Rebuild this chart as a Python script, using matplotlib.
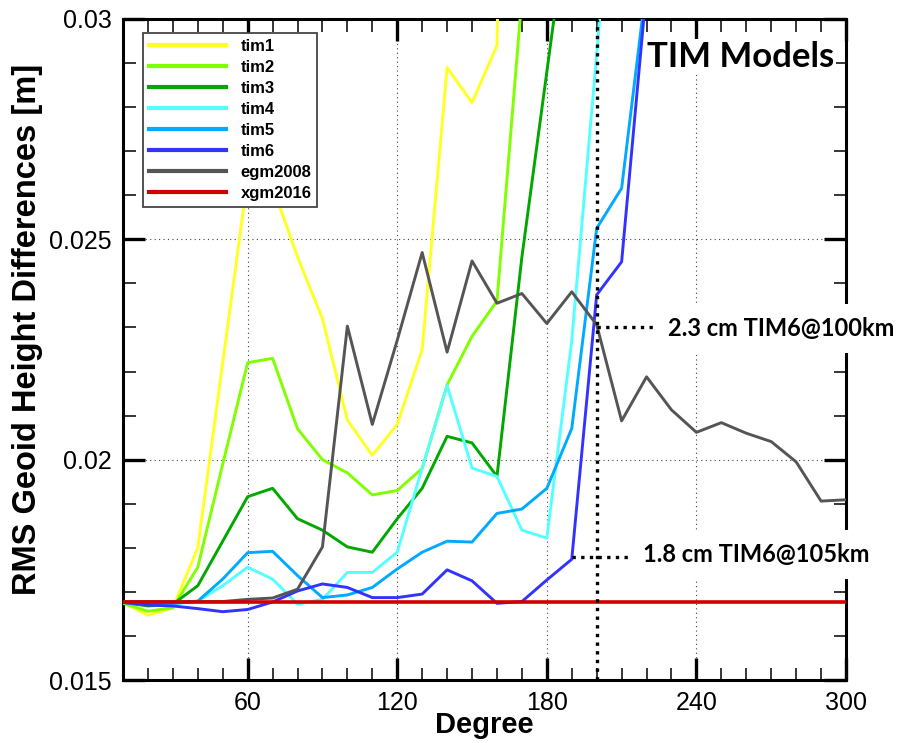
import matplotlib
matplotlib.use("Agg")
import matplotlib.pyplot as plt
from matplotlib.ticker import MultipleLocator, FixedLocator, FuncFormatter

degrees = [10, 20, 30, 40, 50, 60, 70, 80, 90, 100, 110, 120, 130, 140, 150,
           160, 170, 180, 190, 200, 210, 220, 230, 240, 250, 260, 270, 280, 290, 300]

tim1 = [0.01676, 0.01647, 0.01664, 0.0180, 0.0222, 0.0264, 0.0262, 0.0246, 0.0232,
        0.0209, 0.0201, 0.0208, 0.0225, 0.0289, 0.0281, 0.0294, 0.0600]
tim2 = [0.01674, 0.01656, 0.01664, 0.01756, 0.0199, 0.0222, 0.0223, 0.0207, 0.0200,
        0.0197, 0.0192, 0.0193, 0.0198, 0.0217, 0.0228, 0.0236, 0.0305, 0.0400]
tim3 = [0.01676, 0.01668, 0.01672, 0.01714, 0.01815, 0.01916, 0.01935, 0.01866, 0.0184,
        0.01802, 0.0179, 0.01866, 0.01935, 0.02053, 0.02038, 0.01962, 0.0246, 0.0288, 0.0330]
tim4 = [0.01676, 0.01672, 0.01672, 0.01679, 0.01714, 0.01756, 0.01729, 0.01672, 0.01683,
        0.01744, 0.01744, 0.0179, 0.01981, 0.02168, 0.01981, 0.01962, 0.0184, 0.01822,
        0.0227, 0.0292, 0.0360]
tim5 = [0.01676, 0.01674, 0.01674, 0.01679, 0.01729, 0.01789, 0.01792, 0.01737, 0.01687,
        0.01693, 0.0171, 0.01752, 0.0179, 0.01815, 0.01813, 0.01878, 0.01888, 0.01935,
        0.02071, 0.02525, 0.02616, 0.0308]
tim6 = [0.01676, 0.0167, 0.01668, 0.01662, 0.01655, 0.0166, 0.01677, 0.01702, 0.01718,
        0.0171, 0.01687, 0.01687, 0.01695, 0.0175, 0.01725, 0.01674, 0.01678, 0.01727,
        0.01774, 0.02374, 0.02449, 0.0307]
egm2008 = [0.01678, 0.01678, 0.01678, 0.01678, 0.01678, 0.01683, 0.01686, 0.01706, 0.01802,
           0.02303, 0.0208, 0.02271, 0.0247, 0.02244, 0.02451, 0.02355, 0.02377, 0.02309,
           0.02381, 0.02306, 0.02088, 0.02188, 0.02113, 0.02062, 0.02084, 0.0206, 0.02041,
           0.01995, 0.01906, 0.01909]
xgm2016 = [0.01676, 0.01676, 0.01676, 0.01676, 0.01676, 0.01676, 0.01676, 0.01676, 0.01676,
           0.01676, 0.01676, 0.01676, 0.01676, 0.01676, 0.01676, 0.01676, 0.01676, 0.01676,
           0.01676, 0.01676, 0.01676, 0.01676, 0.01676, 0.01676, 0.01676, 0.01676, 0.01676,
           0.01676, 0.01676, 0.01676]

series_names = ["tim1", "tim2", "tim3", "tim4", "tim5", "tim6", "egm2008", "xgm2016"]
series_values = [tim1, tim2, tim3, tim4, tim5, tim6, egm2008, xgm2016]
series_colors = ["#FFFF22", "#80FF00", "#00A800", "#55FFFF", "#00AAFF", "#3333FF",
                 "#555555", "#D00000"]

x_major = [60, 120, 180, 240, 300]
y_major = [0.015, 0.02, 0.025, 0.03]
y_tick_labels = ["0.015", "0.02", "0.025", "0.03"]

cut_degree = 200
label_hi = ("2.3 cm TIM6@100km", 200, 0.0230)
label_lo = ("1.8 cm TIM6@105km", 190, 0.01778)

plt.rcParams['font.family'] = ['Liberation Sans', 'DejaVu Sans']

fig = plt.figure(figsize=(9.04, 7.43), dpi=100)
ax = fig.add_axes([123 / 904, 1 - 680 / 743, (846 - 123) / 904, (680 - 19) / 743])

for name, vals, col in zip(series_names, series_values, series_colors):
    lw = 2.6 if name == "xgm2016" else 2.1
    ax.plot(degrees[:len(vals)], vals, color=col, lw=lw, label=name, zorder=3)

ax.set_xlim(10, 300)
ax.set_ylim(0.015, 0.03)

ax.xaxis.set_major_locator(FixedLocator(x_major))
ax.xaxis.set_minor_locator(MultipleLocator(10))
ax.yaxis.set_major_locator(FixedLocator(y_major))
ax.yaxis.set_minor_locator(MultipleLocator(0.001))
ax.yaxis.set_major_formatter(FuncFormatter(lambda v, p: y_tick_labels[y_major.index(round(v, 3))] if round(v, 3) in y_major else ""))

ax.tick_params(which='both', direction='in', top=True, right=True, labelsize=18)
ax.tick_params(which='major', length=16, width=2.4, pad=8)
ax.tick_params(which='minor', length=9, width=1.1)
for s in ax.spines.values():
    s.set_linewidth(2.2)

ax.grid(True, which='major', color='#444444', lw=0.8, linestyle=(0, (1, 3)), zorder=1)
ax.set_axisbelow(True)

ax.set_xlabel("Degree", fontsize=21, fontweight='bold', labelpad=-3)
ax.set_ylabel("RMS Geoid Height Differences [m]", fontsize=23.5, fontweight='bold')
ax.yaxis.set_label_coords(-0.111, 0.53)

# vertical cut line
ax.axvline(cut_degree, color='black', lw=2.4, linestyle=(0, (1, 1.6)), zorder=4)

# leader lines and labels
txt_font = ['Lato', 'DejaVu Sans']
ax.plot([label_hi[1], 222.5], [label_hi[2], label_hi[2]], color='black', lw=2.4,
        linestyle=(0, (1, 1.6)), clip_on=False, zorder=4)
ax.plot([label_lo[1], 214.0], [label_lo[2], label_lo[2]], color='black', lw=2.4,
        linestyle=(0, (1, 1.6)), clip_on=False, zorder=4)
ax.text(228.5, 0.02281, label_hi[0], fontsize=17, fontweight='bold', family=txt_font,
        ha='left', va='baseline', clip_on=False, zorder=5,
        bbox=dict(boxstyle='square,pad=0.55', facecolor='white', edgecolor='none'))
ax.text(218.5, 0.01768, label_lo[0], fontsize=17, fontweight='bold', family=txt_font,
        ha='left', va='baseline', clip_on=False, zorder=5,
        bbox=dict(boxstyle='square,pad=0.55', facecolor='white', edgecolor='none'))
ax.text(220, 0.02892, "TIM Models", fontsize=25, fontweight='bold', family=txt_font,
        ha='left', va='baseline', zorder=5,
        bbox=dict(boxstyle='square,pad=0.05', facecolor='white', edgecolor='none'))

leg = ax.legend(loc='upper left', bbox_to_anchor=(0.0277, 0.979), borderaxespad=0,
                prop={'weight': 'bold', 'size': 12},
                handlelength=4.6, handletextpad=0.9, labelspacing=0.36,
                frameon=True, fancybox=False, framealpha=1, borderpad=0.35)
leg.get_frame().set_edgecolor('#444444')
leg.get_frame().set_linewidth(1.3)
for ln in leg.get_lines():
    ln.set_linewidth(3)
leg.set_zorder(6)

fig.savefig("out.png", dpi=100)
